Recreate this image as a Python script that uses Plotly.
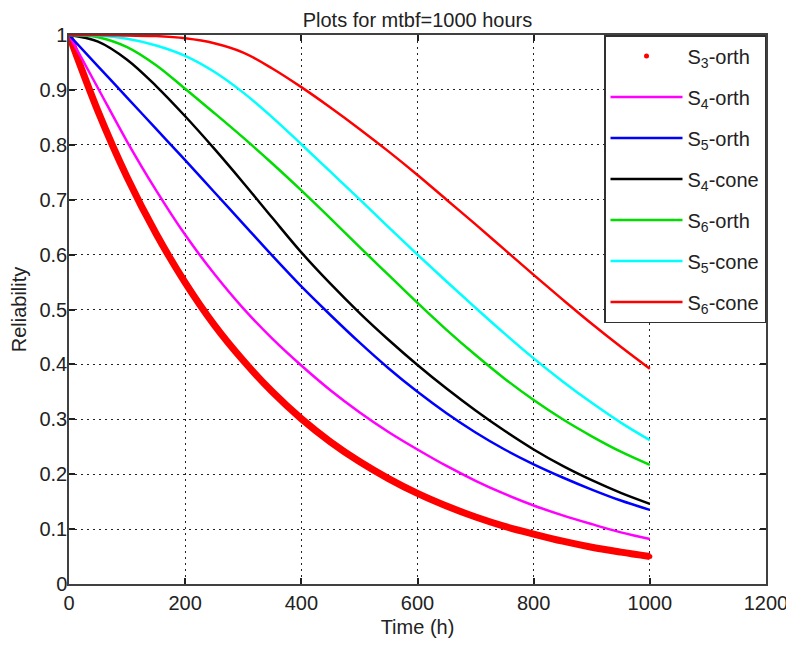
import plotly.graph_objects as go

# time axis (hours) and reliability readings for each configuration
t = [0, 50, 100, 150, 200, 250, 300, 350, 400, 450, 500,
     550, 600, 650, 700, 750, 800, 850, 900, 950, 1000]

s3_orth = [1.0, 0.861, 0.741, 0.638, 0.549, 0.472, 0.407, 0.350, 0.301, 0.259, 0.223,
           0.192, 0.165, 0.142, 0.122, 0.105, 0.091, 0.078, 0.067, 0.058, 0.050]
s4_orth = [1.0, 0.903, 0.806, 0.717, 0.636, 0.565, 0.502, 0.447, 0.398, 0.353, 0.313,
           0.277, 0.245, 0.215, 0.188, 0.164, 0.143, 0.125, 0.109, 0.094, 0.082]
s5_orth = [1.0, 0.943, 0.886, 0.829, 0.772, 0.714, 0.656, 0.598, 0.542, 0.490, 0.440,
           0.393, 0.350, 0.311, 0.276, 0.245, 0.218, 0.194, 0.172, 0.152, 0.135]
s4_cone = [1.0, 0.988, 0.955, 0.907, 0.852, 0.793, 0.731, 0.667, 0.604, 0.547, 0.494,
           0.445, 0.399, 0.356, 0.316, 0.279, 0.245, 0.215, 0.189, 0.166, 0.146]
s6_orth = [1.0, 0.996, 0.978, 0.945, 0.902, 0.858, 0.813, 0.766, 0.717, 0.666, 0.614,
           0.563, 0.512, 0.463, 0.417, 0.374, 0.335, 0.300, 0.269, 0.241, 0.217]
s5_cone = [1.0, 0.999, 0.993, 0.981, 0.962, 0.933, 0.895, 0.850, 0.801, 0.751, 0.701,
           0.650, 0.600, 0.551, 0.503, 0.456, 0.411, 0.369, 0.330, 0.294, 0.262]
s6_cone = [1.0, 1.0, 0.999, 0.998, 0.994, 0.985, 0.968, 0.939, 0.905, 0.868, 0.829,
           0.788, 0.745, 0.700, 0.655, 0.609, 0.563, 0.518, 0.474, 0.432, 0.392]

x_ticks = [0, 200, 400, 600, 800, 1000, 1200]

FONT = 'Liberation Sans, Arial, sans-serif'

fig = go.Figure()

# S3-orth: thick red dotted curve (thick line + small markers for the legend)
fig.add_trace(go.Scatter(x=t, y=s3_orth, mode='lines',
                         line=dict(color='#ff0000', width=7, shape='spline'),
                         legendgroup='g1', showlegend=False, hoverinfo='skip'))
fig.add_trace(go.Scatter(x=t, y=s3_orth, mode='markers',
                         marker=dict(color='#ff0000', size=5, symbol='circle'),
                         legendgroup='g1', name='S<sub>3</sub>-orth'))

curves = [
    ('S<sub>4</sub>-orth', s4_orth, '#ff00ff'),
    ('S<sub>5</sub>-orth', s5_orth, '#0000ff'),
    ('S<sub>4</sub>-cone', s4_cone, '#000000'),
    ('S<sub>6</sub>-orth', s6_orth, '#00dd00'),
    ('S<sub>5</sub>-cone', s5_cone, '#00ffff'),
    ('S<sub>6</sub>-cone', s6_cone, '#ff0000'),
]
for i, (name, vals, col) in enumerate(curves):
    fig.add_trace(go.Scatter(x=t, y=vals, mode='lines', name=name,
                             legendgroup='g%d' % (i + 2),
                             line=dict(color=col, width=2.5, shape='spline')))

axis_style = dict(showline=True, linecolor='#404040', linewidth=1.5, mirror='ticks',
                  ticks='inside', ticklen=6, tickcolor='#202020', tickwidth=1.5,
                  showgrid=True, gridcolor='#222222', griddash='2px,4px', gridwidth=1,
                  zeroline=False, automargin=False,
                  tickfont=dict(family=FONT, size=20, color='#222222'))

fig.update_xaxes(range=[0, 1200], tickvals=x_ticks, title_text='Time (h)',
                 title_font=dict(family=FONT, size=20, color='#222222'),
                 title_standoff=7, **axis_style)
fig.update_yaxes(range=[0, 1], dtick=0.1, title_text='Reliability',
                 title_font=dict(family=FONT, size=20, color='#222222'),
                 ticklabelstandoff=-4, title_standoff=20, **axis_style)

# page body adds an 8px offset, so the figure is sized to fit inside the window
fig.update_layout(width=786, height=637,
                  margin=dict(l=61, r=28, t=27, b=61),
                  plot_bgcolor='white', paper_bgcolor='white',
                  title=dict(text='Plots for mtbf=1000 hours', x=0.5, xref='paper',
                             y=1.0, yanchor='top', pad=dict(t=5, b=0),
                             font=dict(family=FONT, size=20, color='#222222')),
                  legend=dict(x=1.0, y=1.0, xanchor='right', yanchor='top',
                              bgcolor='white', bordercolor='#303030', borderwidth=1.5,
                              traceorder='grouped', tracegroupgap=12,
                              itemwidth=72,
                              font=dict(family=FONT, size=20, color='#222222')),
                  showlegend=True)

fig.write_html("out.html")
